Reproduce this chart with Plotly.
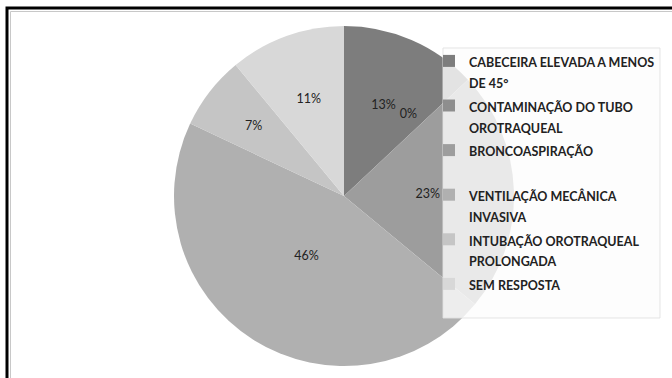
import plotly.graph_objects as go

categories = [
    "CABECEIRA ELEVADA A MENOS<br>DE 45°",
    "CONTAMINAÇÃO DO TUBO<br>OROTRAQUEAL",
    "BRONCOASPIRAÇÃO<br> ",
    "VENTILAÇÃO MECÂNICA<br>INVASIVA",
    "INTUBAÇÃO OROTRAQUEAL<br>PROLONGADA",
    "SEM RESPOSTA<br> ",
]
values = [13, 0, 23, 46, 7, 11]
colors = ["#7d7d7d", "#8e8e8e", "#9d9d9d", "#b0b0b0", "#c5c5c5", "#d8d8d8"]

legend_labels = ["<span style='font-size:12.5px'>" + c + "</span>" for c in categories]

CX, CY, R = 344, 182, 170  # pie centre (px from left / bottom) and radius
RL = 0.82 * R              # radius of the transparent label pie
RZ = 0.55 * R              # radius of the pie carrying the zero-slice label


def dom(r):
    return dict(x=[(CX - r) / 672, (CX + r) / 672],
                y=[(CY - r) / 378, (CY + r) / 378])


fig = go.Figure()
fig.add_trace(go.Pie(
    labels=legend_labels,
    values=values,
    sort=False,
    direction="clockwise",
    rotation=0,
    marker=dict(colors=colors, line=dict(width=0)),
    textinfo="none",
    domain=dom(R),
    hoverinfo="skip",
))
# transparent overlay pie carrying the non-zero percentage labels
fig.add_trace(go.Pie(
    labels=legend_labels,
    values=values,
    sort=False,
    direction="clockwise",
    rotation=0,
    marker=dict(colors=["rgba(0,0,0,0)"] * len(values), line=dict(width=0)),
    texttemplate=["%{percent:.0%}" if v > 0 else "" for v in values],
    textposition="inside",
    insidetextorientation="horizontal",
    textfont=dict(family="Lato", size=12.5, color="#222222"),
    domain=dom(RL),
    showlegend=False,
    hoverinfo="label+percent",
))
# transparent overlay pie carrying the zero-value label
fig.add_trace(go.Pie(
    labels=legend_labels,
    values=values,
    sort=False,
    direction="clockwise",
    rotation=-13,
    marker=dict(colors=["rgba(0,0,0,0)"] * len(values), line=dict(width=0)),
    texttemplate=["%{percent:.0%}" if v == 0 else "" for v in values],
    textposition="outside",
    textfont=dict(family="Lato", size=12.5, color="#222222"),
    domain=dom(RZ),
    showlegend=False,
    hoverinfo="skip",
))

fig.update_layout(
    width=672, height=378,
    margin=dict(l=0, r=0, t=0, b=0),
    paper_bgcolor="white",
    plot_bgcolor="white",
    showlegend=True,
    uniformtext=dict(minsize=12, mode="show"),
    legend=dict(
        x=429 / 672, y=1 - 44 / 378, xanchor="left", yanchor="top",
        bgcolor="rgba(0,0,0,0)",
        borderwidth=0,
        font=dict(family="Lato", size=16, color="#222222", weight="bold"),
        valign="top",
        traceorder="normal",
    ),
    shapes=[
        dict(type="rect", xref="paper", yref="paper",
             x0=443 / 672, x1=660 / 672, y0=1 - 318 / 378, y1=1 - 48 / 378,
             fillcolor="rgba(252,252,252,0.8)",
             line=dict(color="rgba(225,225,225,0.9)", width=1), layer="above"),
        dict(type="rect", xref="paper", yref="paper",
             x0=7 / 672, x1=1.01, y0=-0.01, y1=1 - 8 / 378,
             line=dict(color="black", width=3), layer="above"),
        dict(type="rect", xref="paper", yref="paper",
             x0=10.5 / 672, x1=1.01, y0=-0.01, y1=1 - 11.5 / 378,
             line=dict(color="#c8c8c8", width=1), layer="above"),
    ],
)

fig.write_html("out.html")
